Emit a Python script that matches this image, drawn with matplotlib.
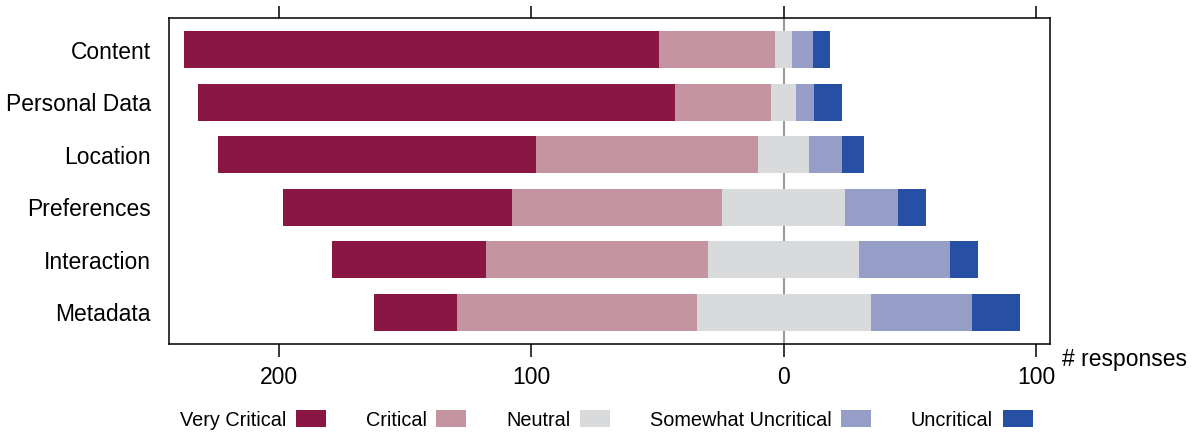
import numpy as np
import matplotlib
matplotlib.use("Agg")
import matplotlib.pyplot as plt
from matplotlib.ticker import FixedLocator, FuncFormatter

plt.rcParams["font.family"] = ["Liberation Sans", "DejaVu Sans"]

# ------------------------------------------------------------------
# data (number of responses per category)
# ------------------------------------------------------------------
categories = ["Content", "Personal Data", "Location", "Preferences", "Interaction", "Metadata"]
levels = ["Very Critical", "Critical", "Neutral", "Somewhat Uncritical", "Uncritical"]

very_critical = [188, 189, 126, 91, 61, 33]
critical = [46, 38, 88, 83, 88, 95]
neutral = [7, 10, 20, 49, 60, 69]
somewhat_uncritical = [8, 7, 13, 21, 36, 40]
uncritical = [7, 11, 9, 11, 11, 19]

colors = ["#8a1743", "#c495a0", "#d9dadc", "#969ec8", "#274fa4"]

# ------------------------------------------------------------------
# diverging stack: neutral centred on zero
# ------------------------------------------------------------------
vc = np.array(very_critical, float)
cr = np.array(critical, float)
ne = np.array(neutral, float)
su = np.array(somewhat_uncritical, float)
un = np.array(uncritical, float)

start_ne = -ne / 2
start_cr = start_ne - cr
start_vc = start_cr - vc
start_su = ne / 2
start_un = start_su + su

fig = plt.figure(figsize=(11.98, 4.32), dpi=100)
ax = fig.add_axes([0.1411, 0.2037, 0.7356, 0.7546])

y = np.arange(len(categories))
h = 0.7
ax.axvline(0, color="#9a9a9a", linewidth=1.5, zorder=0)

series = [(vc, start_vc), (cr, start_cr), (ne, start_ne), (su, start_su), (un, start_un)]
handles = []
for (w, left), col, lab in zip(series, colors, levels):
    bars = ax.barh(y, w, left=left, height=h, color=col, label=lab, zorder=2, linewidth=0)
    handles.append(bars)

ax.set_ylim(5.6, -0.6)
ax.set_xlim(-243.6, 105.7)
ax.set_yticks(y)
ax.set_yticklabels(categories, fontsize=16.5)
ax.tick_params(axis="y", length=0, pad=13)

xt = [-200, -100, 0, 100]
ax.xaxis.set_major_locator(FixedLocator(xt))
ax.xaxis.set_major_formatter(FuncFormatter(lambda v, p: f"{abs(int(round(v)))}"))
ax.tick_params(axis="x", which="both", direction="out", length=9, width=1.1,
               labelsize=16.5, pad=7, top=True, labeltop=False)

for s in ax.spines.values():
    s.set_linewidth(1.1)

fig.text(1062 / 1198, 1 - 366 / 432, "# responses", fontsize=16.5, ha="left", va="baseline")

fig.legend(handles, levels, loc="center", bbox_to_anchor=(0.506, 0.028), ncol=5,
           frameon=False, fontsize=14.3, markerfirst=False, handlelength=1.5,
           handleheight=0.95, handletextpad=0.5, columnspacing=2.0, borderpad=0,
           borderaxespad=0)

fig.savefig("out.png", dpi=100)
